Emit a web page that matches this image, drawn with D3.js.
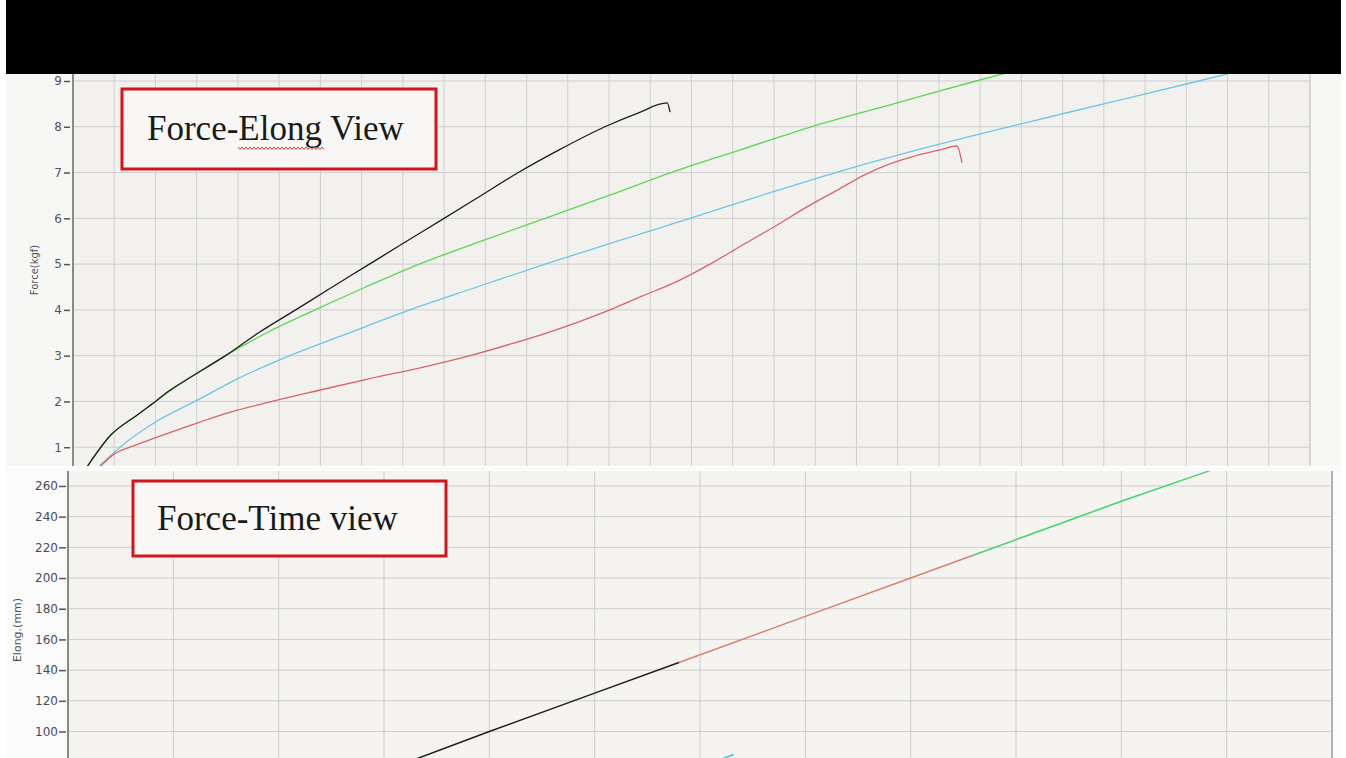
<!DOCTYPE html>
<html>
<head>
<meta charset="utf-8">
<script src="https://cdn.jsdelivr.net/npm/d3@7/dist/d3.min.js"></script>
<style>
  html, body { margin: 0; padding: 0; background: #ffffff; }
  svg { display: block; }
</style>
</head>
<body>
<div id="graph"></div>
<script>
// ---- data ----
// Force-Elong view: [elong (mm), force (kgf)]
const blackForce = [[3.4,0.57],[9,1.25],[15.5,1.7],[20,2.0],[22.8,2.2],[28,2.5],[37,3.0],[45,3.5],[54,4.0],
  [62,4.45],[71,4.95],[80,5.45],[90,6.0],[99,6.5],[108,7.0],[118,7.5],[129,8.0],[137,8.3],[144.1,8.52],[144.8,8.32]];
const greenForce = [[3.4,0.57],[9,1.25],[15.5,1.7],[20,2.0],[28,2.5],[37,3.0],[47,3.5],[58.7,4.0],[71,4.5],
  [84,5.0],[99,5.5],[114.5,6.0],[130,6.5],[145,7.0],[162,7.5],[179,8.0],[199,8.5],[219,9.0],[235,9.38]];
const cyanForce = [[6.5,0.6],[11.4,1.0],[20,1.55],[29.6,2.0],[40,2.5],[52.6,3.0],[67,3.5],[81.7,4.0],[98,4.5],
  [114.5,5.0],[132,5.5],[149.6,6.0],[167,6.5],[185,7.0],[205,7.5],[227,8.0],[250,8.5],[273,9.0],[282,9.2]];
const redForce = [[6.5,0.57],[10,0.85],[13.8,1.0],[20.4,1.22],[30.8,1.55],[38,1.76],[47.8,1.99],[60,2.25],
  [72,2.5],[85,2.75],[96.3,3.0],[106,3.25],[115,3.5],[123,3.75],[130.2,4.0],[138,4.3],[146,4.6],[154.5,5.0],
  [163,5.45],[170.7,5.85],[178,6.25],[186,6.65],[192,6.95],[197,7.15],[203,7.33],[210,7.49],[214.4,7.58],[215.6,7.21]];

// Force-Time view: [time (s), elong (mm)]
const blackElong = [[0,0],[10,50],[16.5,82],[20,100],[25,125],[29,145]];
const redElong = [[29,145],[35,175],[40,200],[43,215]];
const greenElong = [[43,215],[50,250],[54,269],[56,279]];
const cyanElong = [[31.0,82],[31.6,85]];

const forceTicks = [1, 2, 3, 4, 5, 6, 7, 8, 9];
const elongGrid = d3.range(0, 301, 10);
const elongTicks = [80, 100, 120, 140, 160, 180, 200, 220, 240, 260];
const timeGrid = [0, 5, 10, 15, 20, 25, 30, 35, 40, 45, 50, 55, 60];

const W = 1346, H = 758;
const svg = d3.select("#graph").append("svg")
    .attr("width", W).attr("height", H);

svg.append("rect").attr("width", W).attr("height", H).attr("fill", "#ffffff");

// ================= top panel : Force-Elong =================
const upper = {left: 73, right: 1310, top: 74, bottom: 466};
const xTop = d3.scaleLinear().domain([0, 300]).range([upper.left, upper.right]);
const yTop = d3.scaleLinear().domain([0, 9]).range([493, 81]);

svg.append("rect")
    .attr("x", 6).attr("y", upper.top).attr("width", 1335).attr("height", upper.bottom - upper.top)
    .attr("fill", "#f7f7f6");
svg.append("rect")
    .attr("x", upper.left).attr("y", upper.top).attr("width", upper.right - upper.left).attr("height", upper.bottom - upper.top)
    .attr("fill", "#f3f1ee");

svg.append("clipPath").attr("id", "clipTop").append("rect")
    .attr("x", upper.left).attr("y", upper.top).attr("width", upper.right - upper.left + 1).attr("height", upper.bottom - upper.top);

const gTop = svg.append("g").attr("clip-path", "url(#clipTop)");
gTop.selectAll("line.vx").data(elongGrid).join("line")
    .attr("x1", d => xTop(d)).attr("x2", d => xTop(d))
    .attr("y1", upper.top).attr("y2", upper.bottom)
    .attr("stroke", d => d === 300 ? "#b8b8b8" : "#cfcfcf").attr("stroke-width", 1);
gTop.selectAll("line.hy").data(forceTicks).join("line")
    .attr("x1", upper.left).attr("x2", upper.right)
    .attr("y1", d => yTop(d)).attr("y2", d => yTop(d))
    .attr("stroke", "#cfcfcf").attr("stroke-width", 1);

const lineTop = d3.line().curve(d3.curveMonotoneX).x(d => xTop(d[0])).y(d => yTop(d[1]));
[[cyanForce, "#71c4e6"], [redForce, "#d6646e"], [greenForce, "#5fd35a"], [blackForce, "#1e1e1e"]]
  .forEach(([data, color]) => {
    gTop.append("path").datum(data)
      .attr("d", lineTop).attr("fill", "none")
      .attr("stroke", color).attr("stroke-width", 1.3);
  });

// y axis
svg.append("line").attr("x1", upper.left).attr("x2", upper.left)
    .attr("y1", upper.top).attr("y2", upper.bottom)
    .attr("stroke", "#8a8a8a").attr("stroke-width", 2);
const axTop = svg.append("g").attr("transform", "translate(70,0)")
    .call(d3.axisLeft(yTop).tickValues(forceTicks).tickSize(6).tickPadding(2));
axTop.select(".domain").remove();
axTop.selectAll("line").attr("stroke", "#555").attr("stroke-width", 1.5);
axTop.selectAll("text").attr("fill", "#555").style("font", "12px 'DejaVu Sans'");

svg.append("text")
    .attr("transform", "translate(38,270) rotate(-90)")
    .attr("text-anchor", "middle")
    .attr("fill", "#555").style("font", "10px 'DejaVu Sans'")
    .text("Force(kgf)");

// annotation box
svg.append("rect").attr("x", 122).attr("y", 89).attr("width", 314).attr("height", 80)
    .attr("fill", "#f8f7f5").attr("stroke", "#d3151d").attr("stroke-width", 3);
svg.append("text").attr("x", 147).attr("y", 140)
    .attr("fill", "#1a1a1a").style("font", "35px 'Liberation Serif'")
    .text("Force-Elong View");
// spell-check squiggle under "Elong"
let sq = "M238,147";
for (let x = 238, k = 0; x < 324; x += 2, k++) sq += `L${x + 2},${k % 2 ? 147 : 149.5}`;
svg.append("path").attr("d", sq).attr("fill", "none").attr("stroke", "#d33").attr("stroke-width", 1);

// ================= bottom panel : Force-Time =================
const lower = {left: 68, right: 1332, top: 471, bottom: 758};
const xBot = d3.scaleLinear().domain([0, 60]).range([lower.left, lower.right]);
const yBot = d3.scaleLinear().domain([0, 270]).range([885, 470.6]);

svg.append("rect").attr("x", 6).attr("y", 467).attr("width", 1335).attr("height", H - 467)
    .attr("fill", "#fbfbfb");
svg.append("rect")
    .attr("x", lower.left).attr("y", lower.top).attr("width", lower.right - lower.left).attr("height", lower.bottom - lower.top)
    .attr("fill", "#f6f4f1");

svg.append("clipPath").attr("id", "clipBot").append("rect")
    .attr("x", lower.left).attr("y", lower.top).attr("width", lower.right - lower.left + 1).attr("height", lower.bottom - lower.top);

const gBot = svg.append("g").attr("clip-path", "url(#clipBot)");
gBot.selectAll("line.vx").data(timeGrid).join("line")
    .attr("x1", d => xBot(d)).attr("x2", d => xBot(d))
    .attr("y1", lower.top).attr("y2", lower.bottom)
    .attr("stroke", d => d === 60 ? "#b0b0b0" : "#cdcdcd").attr("stroke-width", d => d === 60 ? 2 : 1);
gBot.selectAll("line.hy").data(elongTicks).join("line")
    .attr("x1", lower.left).attr("x2", lower.right)
    .attr("y1", d => yBot(d)).attr("y2", d => yBot(d))
    .attr("stroke", "#cdcdcd").attr("stroke-width", 1);

const lineBot = d3.line().x(d => xBot(d[0])).y(d => yBot(d[1]));
[[cyanElong, "#3cc0ea"], [greenElong, "#46d16c"], [redElong, "#d8806e"], [blackElong, "#1e1e1e"]]
  .forEach(([data, color]) => {
    gBot.append("path").datum(data)
      .attr("d", lineBot).attr("fill", "none")
      .attr("stroke", color).attr("stroke-width", 1.5);
  });

svg.append("line").attr("x1", lower.left).attr("x2", lower.left)
    .attr("y1", lower.top).attr("y2", lower.bottom)
    .attr("stroke", "#666").attr("stroke-width", 1.5);
const axBot = svg.append("g").attr("transform", "translate(66,0)")
    .call(d3.axisLeft(yBot).tickValues(elongTicks).tickSize(7).tickPadding(1));
axBot.select(".domain").remove();
axBot.selectAll("line").attr("stroke", "#555").attr("stroke-width", 1.5);
axBot.selectAll("text").attr("fill", "#4a4a5a").style("font", "12px 'DejaVu Sans'");

svg.append("text")
    .attr("transform", "translate(21,630) rotate(-90)")
    .attr("text-anchor", "middle")
    .attr("fill", "#555").style("font", "11px 'DejaVu Sans'")
    .text("Elong.(mm)");

svg.append("rect").attr("x", 133).attr("y", 481).attr("width", 313).attr("height", 75)
    .attr("fill", "#f9f8f6").attr("stroke", "#d3151d").attr("stroke-width", 3);
svg.append("text").attr("x", 157).attr("y", 530)
    .attr("fill", "#1a1a1a").style("font", "35px 'Liberation Serif'")
    .text("Force-Time view");

// black banner over the top
svg.append("rect").attr("x", 6).attr("y", 0).attr("width", 1335).attr("height", 74).attr("fill", "#000");
</script>
</body>
</html>
